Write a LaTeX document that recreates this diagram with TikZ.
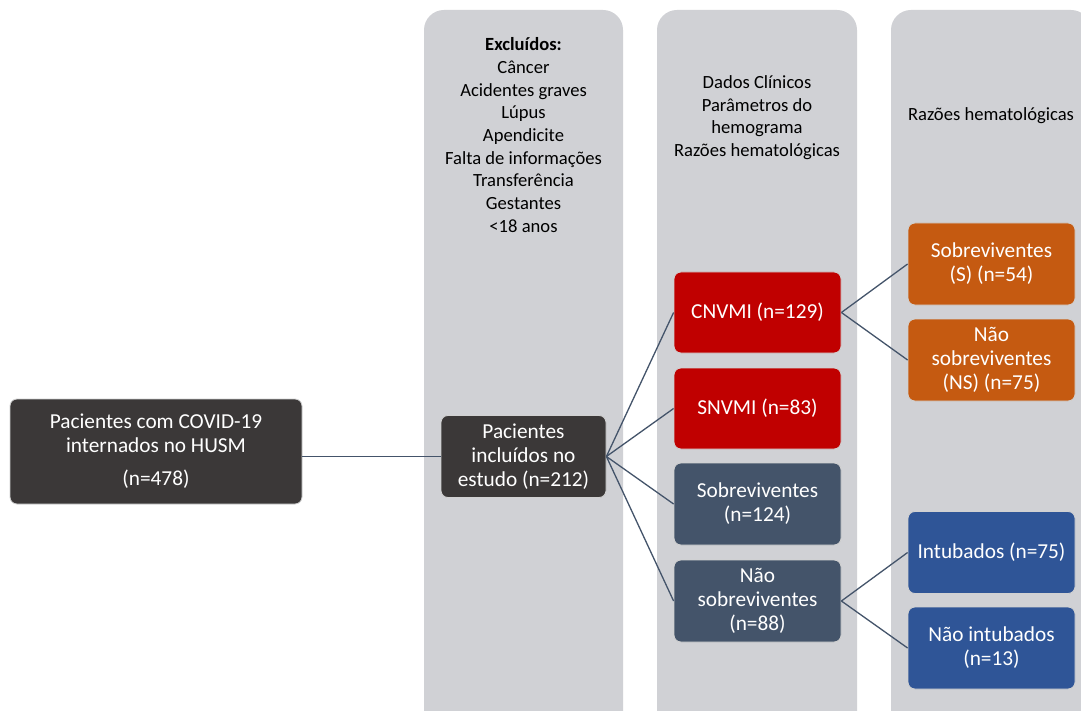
\documentclass[tikz,border=0pt]{standalone}
\usepackage{fontspec}
\setmainfont{Carlito}
\definecolor{colgray}{HTML}{D0D1D5}
\definecolor{darkbox}{HTML}{3B3838}
\definecolor{redbox}{HTML}{C00000}
\definecolor{slatebox}{HTML}{44546A}
\definecolor{orangebox}{HTML}{C55A11}
\definecolor{bluebox}{HTML}{2F5597}

\begin{document}
\begin{tikzpicture}[x=1pt,y=-1pt,
  box/.style={rectangle,rounded corners=7pt,draw=white!82!black,line width=0.8pt,text=white,align=center,inner sep=2pt,font=\fontsize{21.3}{24}\selectfont},
  colbox/.style={fill=colgray,rounded corners=20pt},
  coltext/.style={align=center,text=black,font=\fontsize{18.6}{22.7}\selectfont},
  link/.style={draw=slatebox,line width=1.3pt}]

\clip (0,0) rectangle (1081,711);
\fill[white] (0,0) rectangle (1081,711);

% columns
\fill[colbox] (424,10) rectangle (623,760);
\fill[colbox] (657,10) rectangle (857,760);
\fill[colbox] (891,10) rectangle (1091,760);

\node (excl) at (523.5,135)[coltext] {\textbf{Excluídos:}\\Câncer\\Acidentes graves\\Lúpus\\Apendicite\\Falta de informações\\Transferência\\Gestantes\\<18 anos};
\node (dados) at (757,117.5)[coltext] {Dados Clínicos\\Parâmetros do\\hemograma\\Razões hematológicas};
\node (razoes) at (991,116)[coltext] {Razões hematológicas};

% boxes
\node (hosp) at (156,451.5)[box,fill=darkbox,minimum width=292pt,minimum height=105pt] {Pacientes com COVID-19\\internados no HUSM\\[9pt](n=478)};
\node (incl) at (523.5,456.5)[box,fill=darkbox,minimum width=165pt,minimum height=82pt] {Pacientes\\incluídos no\\estudo (n=212)};
\node (cnvmi) at (757.5,312.5)[box,fill=redbox,minimum width=167pt,minimum height=81pt] {CNVMI (n=129)};
\node (snvmi) at (757.5,408.5)[box,fill=redbox,minimum width=167pt,minimum height=81pt] {SNVMI (n=83)};
\node (sobrev) at (757.5,504)[box,fill=slatebox,minimum width=167pt,minimum height=82pt] {Sobreviventes\\(n=124)};
\node (naosobrev) at (757.5,601)[box,fill=slatebox,minimum width=167pt,minimum height=82pt] {Não\\sobreviventes\\(n=88)};
\node (s) at (991.5,264)[box,fill=orangebox,minimum width=167pt,minimum height=82pt] {Sobreviventes\\(S) (n=54)};
\node (ns) at (991.5,360)[box,fill=orangebox,minimum width=167pt,minimum height=82pt] {Não\\sobreviventes\\(NS) (n=75)};
\node (intub) at (991.5,552.5)[box,fill=bluebox,minimum width=167pt,minimum height=82pt] {Intubados (n=75)};
\node (naointub) at (991.5,648)[box,fill=bluebox,minimum width=167pt,minimum height=82pt] {Não intubados\\(n=13)};

% connectors
\draw[link] (hosp.east |- incl.west) -- (incl.west);
\draw[link] (incl.east) -- (cnvmi.west);
\draw[link] (incl.east) -- (snvmi.west);
\draw[link] (incl.east) -- (sobrev.west);
\draw[link] (incl.east) -- (naosobrev.west);
\draw[link] (cnvmi.east) -- (s.west);
\draw[link] (cnvmi.east) -- (ns.west);
\draw[link] (naosobrev.east) -- (intub.west);
\draw[link] (naosobrev.east) -- (naointub.west);
\end{tikzpicture}
\end{document}
